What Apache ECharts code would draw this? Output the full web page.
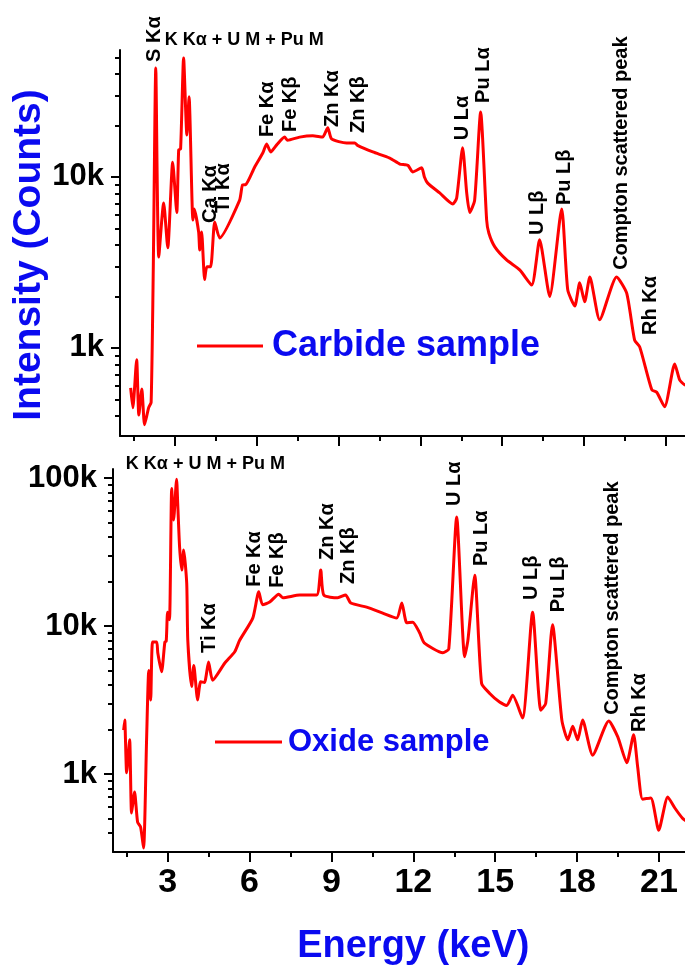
<!DOCTYPE html>
<html><head><meta charset="utf-8">
<script src="https://cdn.jsdelivr.net/npm/echarts@6/dist/echarts.min.js"></script>
<style>html,body{margin:0;padding:0;background:#fff}#c{width:685px;height:967px}</style>
</head><body><div id="c"></div>
<script>
// ---- data (energy in keV, intensity in counts) ----
const carbideEnergy = [1.39,1.47,1.61,1.69,1.80,1.90,2.05,2.14,2.22,2.31,2.42,2.60,2.75,2.93,3.08,3.15,3.22,3.33,3.45,3.53,3.67,3.72,3.88,3.92,3.99,4.10,4.18,4.32,4.47,4.65,5.38,5.49,5.60,5.93,6.23,6.37,6.52,6.74,7.03,7.14,7.58,8.06,8.42,8.61,8.75,9.30,9.60,9.70,10.26,10.88,11.25,11.43,11.55,11.72,12.05,12.15,12.27,12.71,13.19,13.33,13.55,13.70,13.81,13.99,14.21,14.43,14.51,14.73,15.16,15.64,16.08,16.37,16.74,17.18,17.40,17.66,17.84,18.02,18.21,18.57,19.19,19.56,19.85,20.04,20.48,20.66,20.95,21.32,21.50,21.68,22.0];
const carbideCounts = [583,446,851,405,575,355,447,480,3000,43400,3400,7050,3850,12200,6200,14400,14600,49700,17600,29500,5600,6500,4770,3740,4770,2510,2980,2980,5450,4400,7300,8980,9000,11400,13800,15600,14000,15400,17100,16400,17100,17400,17100,19400,16700,15800,15800,15300,14000,12900,11900,11800,11700,10700,11300,10000,9200,8060,6950,7500,14800,8060,6200,7300,24000,5600,4700,3900,3270,2860,2330,4290,2000,6500,2190,1760,2400,1860,2600,1460,2600,2090,1110,1010,568,550,452,805,650,608,590];
const oxideEnergy = [1.39,1.43,1.50,1.61,1.68,1.79,1.90,2.01,2.12,2.23,2.31,2.38,2.45,2.60,2.64,2.78,2.90,2.95,3.00,3.07,3.15,3.22,3.33,3.37,3.44,3.52,3.59,3.70,3.74,3.88,3.96,4.10,4.21,4.35,4.50,4.65,5.09,5.46,5.64,6.12,6.34,6.48,6.74,7.07,7.22,7.84,8.46,8.61,8.72,9.23,9.52,9.71,10.29,10.88,11.39,11.58,11.76,11.98,12.23,12.40,13.08,13.30,13.59,13.88,14.00,14.25,14.50,14.80,15.16,15.42,15.64,16.00,16.37,16.67,16.85,17.10,17.44,17.66,17.84,18.02,18.20,18.57,19.16,19.49,19.82,20.07,20.22,20.40,20.70,20.99,21.32,21.58,21.87,22.0];
const oxideCounts = [1980,2320,1020,1700,545,755,474,438,316,1700,5000,3160,7800,7800,6600,4900,7800,7900,12400,11000,85000,52000,98000,67600,34000,23900,32600,19500,8000,3900,5400,3160,4200,4150,5700,4300,5600,6700,8000,11300,17000,13900,14500,16400,15500,16200,16200,23900,16200,15500,16200,14300,13400,12200,11300,14300,10500,10600,9000,7700,6600,7000,54500,6200,8000,22000,4100,3500,3060,2900,3400,2390,12400,2700,3000,10200,2320,1700,2100,1700,2320,1340,2280,1780,1190,1840,1110,676,689,417,700,589,500,480];

const xMajorTicks = [3,6,9,12,15,18,21];
const xMinorTicks = [1.5,4.5,7.5,10.5,13.5,16.5,19.5,22.5];
const yMajorTop = [1000,10000];
const yMinorTop = [400,500,600,700,800,900,2000,3000,4000,5000,6000,7000,8000,9000,20000,30000,40000,50000];
const yMajorBottom = [1000,10000,100000];
const yMinorBottom = [400,500,600,700,800,900,2000,3000,4000,5000,6000,7000,8000,9000,20000,30000,40000,50000,60000,70000,80000,90000];

// peak annotations: [text, energy, counts at text start, horizontal?]
const carbideLabels = [
  ['S K\u03b1',2.27,47100,false],
  ['K K\u03b1 + U M + Pu M',2.64,63200,true],
  ['Ca K\u03b1',4.32,5380,false],
  ['Ti K\u03b1',4.80,6150,false],
  ['Fe K\u03b1',6.41,17100,false],
  ['Fe K\u03b2',7.25,18300,false],
  ['Zn K\u03b1',8.79,19600,false],
  ['Zn K\u03b2',9.74,18100,false],
  ['U L\u03b1',13.55,16400,false],
  ['Pu L\u03b1',14.32,27100,false],
  ['U L\u03b2',16.30,4580,false],
  ['Pu L\u03b2',17.29,6850,false],
  ['Compton scattered peak',19.38,2860,false],
  ['Rh K\u03b1',20.44,1190,false]
];
const oxideLabels = [
  ['K K\u03b1 + U M + Pu M',1.47,124500,true],
  ['Ti K\u03b1',4.54,6580,false],
  ['Fe K\u03b1',6.19,18400,false],
  ['Fe K\u03b2',7.03,18100,false],
  ['Zn K\u03b1',8.86,27900,false],
  ['Zn K\u03b2',9.63,19200,false],
  ['U L\u03b1',13.52,64700,false],
  ['Pu L\u03b1',14.51,25400,false],
  ['U L\u03b2',16.34,15000,false],
  ['Pu L\u03b2',17.33,12400,false],
  ['Compton scattered peak',19.30,2510,false],
  ['Rh K\u03b1',20.29,1920,false]
];

const FONT = '"Liberation Sans", Arial, sans-serif';
const BLUE = '#0a0af0';
const RED = '#ff0000';
const zip = (xs, ys) => xs.map((x, i) => [x, ys[i]]);
const kfmt = v => v >= 1000 ? (v/1000) + 'k' : String(v);

function xAxes(grid, withLabels) {
  const base = {type:'value', gridIndex:grid, min:1, max:23, position:'bottom',
    splitLine:{show:false}, axisLine:{onZero:false, lineStyle:{color:'#000', width:2}}};
  const major = Object.assign({}, base, {
    axisTick:{show:true, customValues:xMajorTicks, length:10, lineStyle:{color:'#000', width:2}},
    axisLabel:{show:withLabels, customValues:xMajorTicks, margin:14, color:'#000', fontSize:34, fontWeight:'bold', fontFamily:FONT}
  });
  const minor = Object.assign({}, base, {
    axisLine:{show:false, onZero:false},
    axisTick:{show:true, customValues:xMinorTicks, length:5, lineStyle:{color:'#000', width:2}},
    axisLabel:{show:false}
  });
  return [major, minor];
}
function yAxes(grid, min, max, majors, minors) {
  const base = {type:'log', logBase:10, gridIndex:grid, min:min, max:max, position:'left', splitLine:{show:false}};
  return [
    Object.assign({}, base, {
      axisLine:{show:true, onZero:false, lineStyle:{color:'#000', width:2}},
      axisTick:{show:true, customValues:majors, length:9, lineStyle:{color:'#000', width:2}},
      axisLabel:{show:true, customValues:majors, formatter:kfmt, margin:16, color:'#000', fontSize:31, fontWeight:'bold', fontFamily:FONT}
    }),
    Object.assign({}, base, {
      axisLine:{show:false, onZero:false},
      axisTick:{show:true, customValues:minors, length:5, lineStyle:{color:'#000', width:2}},
      axisLabel:{show:false}
    })
  ];
}

const xs = xAxes(0, false).concat(xAxes(1, true));
xs[2].name = 'Energy (keV)';
xs[2].nameLocation = 'middle';
xs[2].nameGap = 76;
xs[2].nameTextStyle = {color:BLUE, fontSize:38, fontWeight:'bold', fontFamily:FONT};

const option = {
  animation:false,
  backgroundColor:'#fff',
  grid:[
    {left:120, top:50, width:600.6, height:386, outerBoundsMode:'none'},
    {left:113, top:469, width:600.6, height:383, outerBoundsMode:'none'}
  ],
  xAxis: xs,
  yAxis: yAxes(0, 305, 55300, yMajorTop, yMinorTop).concat(yAxes(1, 297, 115000, yMajorBottom, yMinorBottom)),
  legend:[
    {data:['Carbide sample'], left:197, top:326, padding:0, icon:'rect', itemWidth:66, itemHeight:3,
     textStyle:{color:BLUE, fontSize:36, fontWeight:'bold', fontFamily:FONT, lineHeight:40, padding:[0,0,0,4]}},
    {data:['Oxide sample'], left:215, top:724, padding:0, icon:'rect', itemWidth:67, itemHeight:3,
     textStyle:{color:BLUE, fontSize:31, fontWeight:'bold', fontFamily:FONT, lineHeight:36, padding:[0,0,0,1]}}
  ],
  series:[
    {name:'Carbide sample', type:'line', xAxisIndex:0, yAxisIndex:0, data:zip(carbideEnergy, carbideCounts),
     showSymbol:false, symbol:'none', smooth:0.2, color:RED, lineStyle:{color:RED, width:3}},
    {name:'Oxide sample', type:'line', xAxisIndex:2, yAxisIndex:2, data:zip(oxideEnergy, oxideCounts),
     showSymbol:false, symbol:'none', smooth:0.2, color:RED, lineStyle:{color:RED, width:3}}
  ]
};

const chart = echarts.init(document.getElementById('c'), null, {renderer:'canvas'});
chart.setOption(option);

const graphics = [{
  type:'text', x:29, y:255, rotation:Math.PI/2,
  style:{text:'Intensity (Counts)', fill:BLUE, font:'bold 39px ' + FONT, textAlign:'center', align:'center', textVerticalAlign:'middle', verticalAlign:'middle'}
}];
function addLabels(list, xi, yi) {
  list.forEach(([text, x, y, horiz]) => {
    const p = chart.convertToPixel({xAxisIndex:xi, yAxisIndex:yi}, [x, y]);
    graphics.push({type:'text', x:p[0], y:p[1], rotation: horiz ? 0 : Math.PI/2,
      style:{text:text, fill:'#000', font:'bold ' + (horiz ? 18 : 20) + 'px ' + FONT,
        textAlign:'left', align:'left', textVerticalAlign:'middle', verticalAlign:'middle'}});
  });
}
addLabels(carbideLabels, 0, 0);
addLabels(oxideLabels, 2, 2);
chart.setOption({graphic: graphics});
</script>
</body></html>
